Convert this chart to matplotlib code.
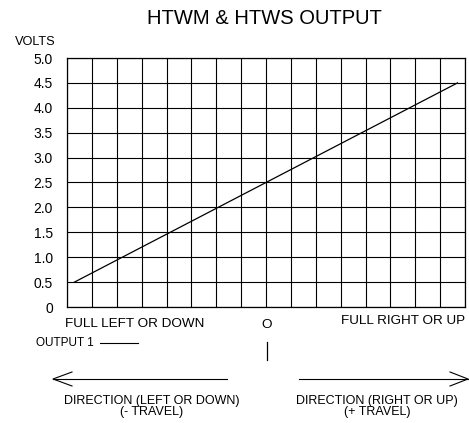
import matplotlib
matplotlib.use("Agg")
import matplotlib.pyplot as plt
import numpy as np
from matplotlib.lines import Line2D

plt.rcParams['font.family'] = ['Liberation Sans', 'DejaVu Sans']

# Data
travel = [-7.7, 7.7]          # position (grid columns, centre = 0)
volts = [0.5, 4.5]            # output voltage
y_ticks = [0, 0.5, 1.0, 1.5, 2.0, 2.5, 3.0, 3.5, 4.0, 4.5, 5.0]
y_tick_labels = ["0", "0.5", "1.0", "1.5", "2.0", "2.5", "3.0", "3.5", "4.0", "4.5", "5.0"]
x_grid = list(range(-8, 9))

W, H = 469, 423
fig = plt.figure(figsize=(W / 100, H / 100), dpi=100)
ax = fig.add_axes([67 / W, (H - 307) / H, 398 / W, 249 / H])

ax.plot(travel, volts, color='black', lw=0.9)
ax.set_xlim(-8, 8)
ax.set_ylim(0, 5)
ax.set_xticks(x_grid)
ax.set_xticklabels([])
ax.set_yticks(y_ticks)
ax.set_yticklabels(y_tick_labels, fontsize=10)
ax.tick_params(length=0, pad=10)
ax.grid(True, color='black', lw=0.8)
for s in ax.spines.values():
    s.set_linewidth(0.9)

def fx(px):
    return px / W

def fy(py):
    return 1 - py / H

fig.text(fx(264), fy(18), "HTWM & HTWS OUTPUT", ha='center', va='center', fontsize=14.5)
fig.text(fx(56), fy(42), "VOLTS", ha='right', va='center', fontsize=9.2)
fig.text(fx(65), fy(324), "FULL LEFT OR DOWN", ha='left', va='center', fontsize=9.7)
fig.text(fx(267), fy(325), "O", ha='center', va='center', fontsize=9.7)
fig.text(fx(465), fy(321), "FULL RIGHT OR UP", ha='right', va='center', fontsize=9.7)
fig.text(fx(36), fy(343), "OUTPUT 1", ha='left', va='center', fontsize=8.5)
fig.add_artist(Line2D([fx(100), fx(138)], [fy(343), fy(343)], color='black', lw=0.8))
fig.add_artist(Line2D([fx(267), fx(267)], [fy(342), fy(360)], color='black', lw=0.9))

# arrows
ay = 379
fig.add_artist(Line2D([fx(53), fx(227)], [fy(ay), fy(ay)], color='black', lw=0.8))
fig.add_artist(Line2D([fx(72), fx(53), fx(72)], [fy(ay - 7), fy(ay), fy(ay + 7)], color='black', lw=0.8))
fig.add_artist(Line2D([fx(299), fx(468)], [fy(ay), fy(ay)], color='black', lw=0.8))
fig.add_artist(Line2D([fx(450), fx(468), fx(450)], [fy(ay - 7), fy(ay), fy(ay + 7)], color='black', lw=0.8))

fig.text(fx(152), fy(401), "DIRECTION (LEFT OR DOWN)", ha='center', va='center', fontsize=9)
fig.text(fx(152), fy(412), "(- TRAVEL)", ha='center', va='center', fontsize=9)
fig.text(fx(377), fy(401), "DIRECTION (RIGHT OR UP)", ha='center', va='center', fontsize=9)
fig.text(fx(377), fy(412), "(+ TRAVEL)", ha='center', va='center', fontsize=9)

fig.savefig("out.png", dpi=100)
